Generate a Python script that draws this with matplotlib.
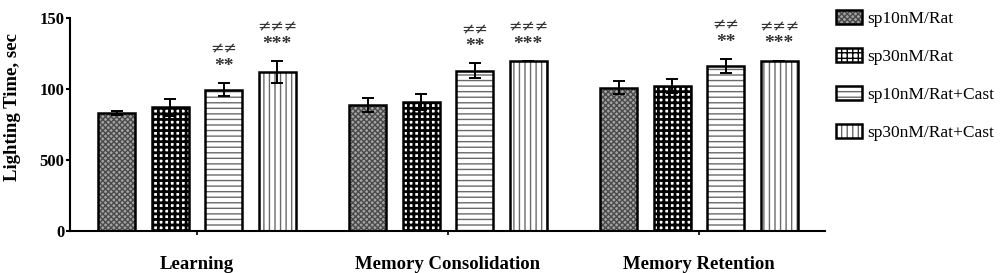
import numpy as np
import matplotlib
matplotlib.use("Agg")
import matplotlib.pyplot as plt
from matplotlib.patches import Patch
from matplotlib.legend_handler import HandlerTuple

plt.rcParams['font.family'] = ['Liberation Serif', 'DejaVu Serif']
plt.rcParams['hatch.linewidth'] = 1.0

# data
groups = ["Learning", "Memory Consolidation", "Memory Retention"]
series = ["sp10nM/Rat", "sp30nM/Rat", "sp10nM/Rat+Cast", "sp30nM/Rat+Cast"]
means = [[83, 87, 99.5, 112],
         [89, 91, 113, 119.5],
         [101, 102, 116, 120]]
errs = [[1.5, 6, 4.5, 7.5],
        [5, 5.5, 5, 0],
        [4.5, 5, 5, 0]]
neq_marks = ["", "", "\u2260\u2260", "\u2260\u2260\u2260"]
star_marks = ["", "", "**", "***"]
ytick_vals = [0, 50, 100, 150]
ytick_text = ["0", "500", "100", "150"]

faces = ["#a3a3a3", "white", "white", "white"]
hatches = ["xxxxxx", "+++", "---", "|||"]
hcols = ["#4a4a4a", "black", "#6a6a6a", "#6a6a6a"]
hlw = [1.0, 2.0, 1.0, 1.0]

fig = plt.figure(figsize=(10, 2.73), dpi=100)
ax = fig.add_axes([0.07, 0.154, 0.755, 0.78])

means = np.array(means)
errs = np.array(errs)
x = np.arange(len(groups))
width = 0.147
step = 0.213

handles = []
for i, name in enumerate(series):
    pos = x + (i - 1.5) * step
    bars = ax.bar(pos, means[:, i], width, color=faces[i], hatch=hatches[i],
                  edgecolor=hcols[i], linewidth=0, zorder=2)
    h1 = Patch(facecolor=faces[i], hatch=hatches[i], edgecolor=hcols[i], linewidth=0)
    for b in list(bars) + [h1]:
        if hasattr(b, "set_hatch_linewidth"):
            b.set_hatch_linewidth(hlw[i])
    ax.bar(pos, means[:, i], width, fill=False, edgecolor="black",
           linewidth=1.8, zorder=3)
    ax.errorbar(pos, means[:, i], yerr=errs[:, i], fmt="none", ecolor="black",
                elinewidth=1.4, capsize=4, capthick=1.4, zorder=4)
    if star_marks[i]:
        for p, m, e in zip(pos, means[:, i], errs[:, i]):
            ax.annotate(star_marks[i], (p, m + e), xytext=(0, 12), textcoords="offset points",
                        ha="center", va="center", fontsize=14, color="#333333",
                        fontweight="bold")
            ax.annotate(neq_marks[i], (p, m + e), xytext=(0, 24.5), textcoords="offset points",
                        ha="center", va="center", fontsize=11.5, color="#333333",
                        family="DejaVu Sans")
    h2 = Patch(fill=False, edgecolor="black", linewidth=1.8)
    handles.append((h1, h2))

ax.set_xlim(-0.506, 2.502)
ax.set_ylim(0, 150)
ax.set_yticks(ytick_vals)
ax.set_yticklabels(ytick_text, fontweight="bold", fontsize=12)
ax.set_xticks(x)
ax.set_xticklabels(groups, fontweight="bold", fontsize=13.5)
ax.tick_params(axis="x", length=3, width=1.2, pad=15)
ax.tick_params(axis="y", length=3, width=1.5, pad=1)
ax.set_ylabel("Lighting Time, sec", fontweight="bold", fontsize=13.5)
ax.yaxis.set_label_coords(-0.065, 0.58)
for s in ["top", "right"]:
    ax.spines[s].set_visible(False)
for s in ["left", "bottom"]:
    ax.spines[s].set_linewidth(1.5)

fig.legend(handles, series, handler_map={tuple: HandlerTuple(ndivide=1)},
           loc="upper left", bbox_to_anchor=(0.826, 1.0), frameon=False,
           borderaxespad=0.15, fontsize=12.5, labelspacing=1.2,
           handlelength=1.5, handleheight=0.9, handletextpad=0.35)

fig.savefig("out.png", dpi=100)
